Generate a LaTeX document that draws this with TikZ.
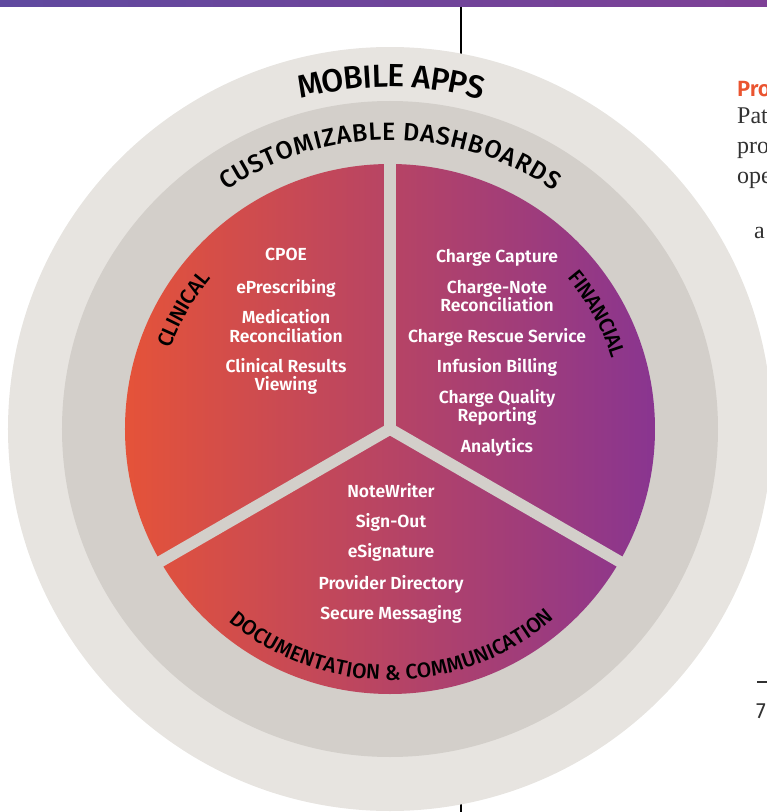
\documentclass[tikz,border=0pt]{standalone}
\usepackage{fontspec}
\setmainfont{Fira Sans}[BoldFont={Fira Sans SemiBold}]
\newfontfamily\mittelschrift{Fira Sans Medium}
\newfontfamily\serifschrift{Liberation Serif}
\usetikzlibrary{decorations.text}
\definecolor{hellgrau}{RGB}{231,228,224}
\definecolor{mittelgrau}{RGB}{211,207,202}
\definecolor{orangerot}{RGB}{229,83,57}
\definecolor{lila}{RGB}{137,53,144}
\definecolor{titelrot}{RGB}{234,84,48}
\definecolor{balkenlinks}{RGB}{95,73,159}
\definecolor{balkenrechts}{RGB}{126,64,150}
\definecolor{schrift}{RGB}{50,50,50}

\tikzset{
  eintrag/.style={white, font=\bfseries\fontsize{17.5}{17.5}\selectfont, anchor=base, inner sep=0pt},
  bogentext/.style 2 args={decorate, decoration={text effects along path, text={#2}, text align=center,
      text effects/.cd, text along path, fit text to path,
      characters={anchor=base, inner sep=0pt, text=black, font=\mittelschrift\fontsize{#1}{#1}\selectfont}}},
}

\begin{document}
\begin{tikzpicture}[x=1pt, y=1pt]
    \useasboundingbox (-390,-383) rectangle (377,429);
    \clip (-390,-383) rectangle (377,429);

    % Balken und Trennlinie
    \shade[left color=balkenlinks, right color=balkenrechts] (-390,422) rectangle (377,429);
    \coordinate (linieoben) at (71,422);
    \coordinate (linieunten) at (71,-383);
    \draw[line width=1.2pt] (linieoben) -- (linieunten);

    % Ringe und Torte
    \coordinate (mitte) at (0,0);
    \fill[hellgrau] (mitte) circle (382);
    \fill[mittelgrau] (mitte) circle (328);
    \shade[left color=orangerot, right color=lila] (mitte) circle (265);
    \foreach \w in {90,210,330}
        \draw[mittelgrau, line width=11.5pt] (mitte) -- (\w:266);

    % Beschriftung auf den Boegen
    \path[bogentext={32}{MOBILE APPS}] (105.2:342) arc[start angle=105.2, end angle=74.4, radius=342];
    \path[bogentext={25}{CUSTOMIZABLE DASHBOARDS}] (124.5:289) arc[start angle=124.5, end angle=55.5, radius=289];
    \path[bogentext={21}{CLINICAL}] (160:234) arc[start angle=160, end angle=140, radius=234];
    \path[bogentext={21}{FINANCIAL}] (40.5:233) arc[start angle=40.5, end angle=17.5, radius=233];
    \path[bogentext={21}{DOCUMENTATION {\&} COMMUNICATION}] (230:251) arc[start angle=230, end angle=311, radius=251];

    % Eintraege
    \foreach \y/\t [count=\i] in {168/CPOE, 136/ePrescribing, 106/Medication, 87/Reconciliation,
            57/Clinical Results, 39/Viewing}
        \node[eintrag] (klinik\i) at (-104,\y) {\t};
    \foreach \y/\t [count=\i] in {167/Charge Capture, 136/Charge-Note, 118/Reconciliation,
            87/Charge Rescue Service, 57/Infusion Billing, 26/Charge Quality, 8/Reporting, -23/Analytics}
        \node[eintrag] (finanz\i) at (107,\y) {\t};
    \foreach \y/\t [count=\i] in {-68/NoteWriter, -98/Sign-Out, -128/eSignature,
            -160/Provider Directory, -190/Secure Messaging}
        \node[eintrag] (doku\i) at (1,\y) {\t};

    % Text rechts
    \node[anchor=base west, inner sep=0pt, text=titelrot, font=\bfseries\fontsize{22}{22}\selectfont] (titel) at (347,332) {Pro};
    \foreach \y/\t [count=\i] in {305/Pat, 275/pro, 245/ope}
        \node[anchor=base west, inner sep=0pt, text=schrift, font=\serifschrift\fontsize{24}{24}\selectfont] (zeile\i) at (347,\y) {\t};
    \node[anchor=base west, inner sep=0pt, text=schrift, font=\serifschrift\fontsize{24}{24}\selectfont] (zeile4) at (364,191) {a};
    \coordinate (striche) at (367,-253);
    \coordinate (strichw) at (377,-253);
    \draw[line width=1.3pt, schrift] (striche) -- (strichw);
    \node[anchor=base west, inner sep=0pt, text=schrift, font=\fontsize{22}{22}\selectfont] (seite) at (366,-289) {7};

\end{tikzpicture}
\end{document}
